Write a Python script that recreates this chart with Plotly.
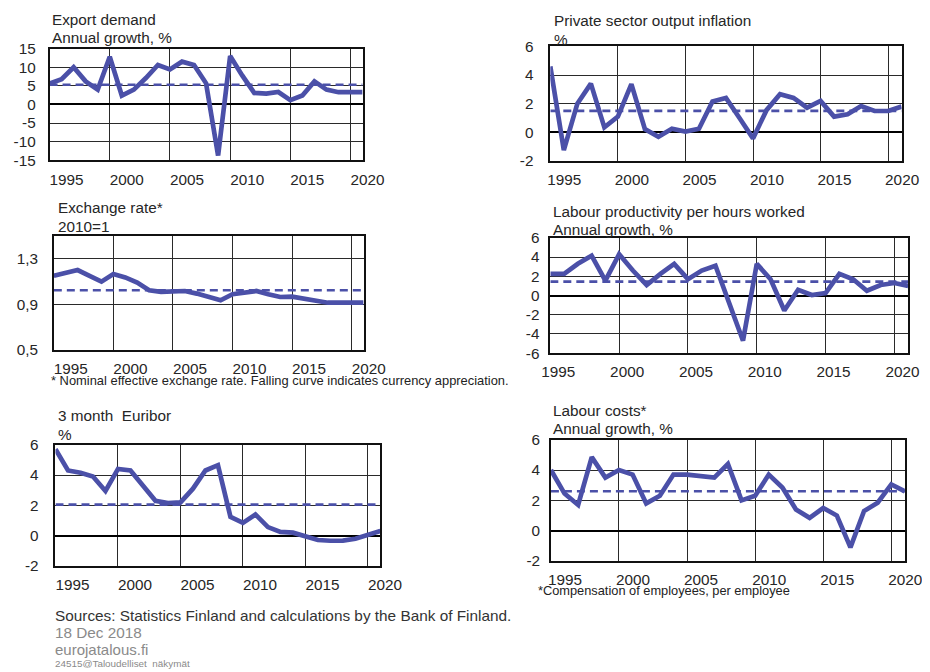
import plotly.graph_objects as go

# ---------------- data ----------------
years = list(range(1995, 2022))
year_ticks = [1995, 2000, 2005, 2010, 2015, 2020]
year_labels = ["1995", "2000", "2005", "2010", "2015", "2020"]

export_demand = [5.6, 6.8, 10.0, 6.2, 4.0, 12.8, 2.4, 4.0, 7.1, 10.6,
                 9.4, 11.5, 10.6, 5.7, -13.7, 13.0, 7.8, 3.1, 2.9, 3.35,
                 1.15, 2.4, 6.2, 4.0, 3.3, 3.4, 3.3]
export_avg = 5.3

private_inflation = [4.6, -1.24, 2.0, 3.4, 0.35, 1.1, 3.36, 0.23, -0.3, 0.25,
                     0.05, 0.25, 2.15, 2.4, 1.0, -0.42, 1.55, 2.66, 2.4, 1.72,
                     2.19, 1.1, 1.26, 1.84, 1.49, 1.49, 1.8]
private_avg = 1.5

exchange_rate = [1.152, 1.181, 1.202, 1.152, 1.10, 1.167, 1.137, 1.093, 1.024, 1.01,
                 1.018, 1.018, 0.995, 0.965, 0.936, 0.99, 1.004, 1.018, 0.99, 0.965,
                 0.968, 0.953, 0.94, 0.915, 0.915, 0.915, 0.915]
exchange_avg = 1.024

labour_productivity = [2.25, 2.25, 3.3, 4.15, 1.55, 4.3, 2.6, 1.1, 2.25, 3.3,
                       1.7, 2.6, 3.1, -0.8, -4.7, 3.3, 1.7, -1.55, 0.6, 0.05,
                       0.25, 2.25, 1.7, 0.5, 1.1, 1.3, 1.0]
productivity_avg = 1.45

euribor = [5.7, 4.3, 4.15, 3.9, 2.95, 4.4, 4.3, 3.3, 2.3, 2.15,
           2.2, 3.1, 4.3, 4.65, 1.25, 0.85, 1.4, 0.57, 0.25, 0.2,
           -0.05, -0.28, -0.33, -0.32, -0.2, 0.08, 0.32]
euribor_avg = 2.05

labour_costs = [4.0, 2.45, 1.7, 4.85, 3.5, 4.0, 3.7, 1.8, 2.3, 3.7,
                3.7, 3.6, 3.5, 4.4, 2.0, 2.3, 3.7, 2.85, 1.4, 0.85,
                1.5, 1.0, -1.1, 1.3, 1.85, 3.05, 2.6]
costs_avg = 2.6

ticks_pm15 = [-15, -10, -5, 0, 5, 10, 15]
ticks_m2_6 = [-2, 0, 2, 4, 6]
ticks_pm6 = [-6, -4, -2, 0, 2, 4, 6]
ticks_fx = [0.5, 0.9, 1.3]
ticks_fx_labels = ["0,5", "0,9", "1,3"]

# ---------------- styling ----------------
# the captured picture is the page shrunk by ~0.977 and shifted; target pixel
# positions (x, y in the 930x672 picture) are mapped back to layout pixels
SC, OX, OY = 0.977, 7.8, 16.3
W, H = 936, 671
LINE = "#4b50a8"
FONT = "Liberation Sans, Arial, sans-serif"
TXT = "#262626"
FS = 15.3


def lx(x):
    return (x - OX) / SC


def ly(y):
    return (y - OY) / SC


def dx(a, b):
    return [lx(a) / W, lx(b) / W]


def dy(top, bot):
    return [1 - ly(bot) / H, 1 - ly(top) / H]


panels = [
    dict(vals=export_demand, avg=export_avg, px=(40.7, 357), py=(48, 160),
         yrange=[-15, 15], yt=ticks_pm15, ytt=[str(v) for v in ticks_pm15], zero=True, ystand=9,
         shift=17, titles=[("Export demand", 41, 19), ("Annual growth, %", 41, 37)]),
    dict(vals=private_inflation, avg=private_avg, px=(546.7, 901.7), py=(45.7, 160.7),
         yrange=[-2, 6], yt=ticks_m2_6, ytt=[str(v) for v in ticks_m2_6], zero=True, ystand=12,
         shift=14, titles=[("Private sector output inflation", 548, 20), ("%", 548, 39)]),
    dict(vals=exchange_rate, avg=exchange_avg, px=(45, 358), py=(236, 350),
         yrange=[0.5, 1.5], yt=ticks_fx, ytt=ticks_fx_labels, zero=False, ystand=11,
         shift=17, titles=[("Exchange rate*", 47, 207), ("2010=1", 47, 226)]),
    dict(vals=labour_productivity, avg=productivity_avg, px=(546.7, 908.3), py=(237.7, 353.3),
         yrange=[-6, 6], yt=ticks_pm6, ytt=[str(v) for v in ticks_pm6], zero=True, ystand=6,
         shift=8, titles=[("Labour productivity per hours worked", 547, 211), ("Annual growth, %", 547, 229)]),
    dict(vals=euribor, avg=euribor_avg, px=(46.7, 375), py=(445, 566.7),
         yrange=[-2, 6], yt=ticks_m2_6, ytt=[str(v) for v in ticks_m2_6], zero=True, ystand=12,
         shift=17, titles=[("3 month  Euribor", 47, 416), ("%", 47, 435)]),
    dict(vals=labour_costs, avg=costs_avg, px=(547.3, 905), py=(440, 561.7),
         yrange=[-2, 6], yt=ticks_m2_6, ytt=[str(v) for v in ticks_m2_6], zero=True, ystand=6,
         shift=14, titles=[("Labour costs*", 547, 411), ("Annual growth, %", 547, 429)]),
]

fig = go.Figure()
annotations = []
layout = {}

for i, p in enumerate(panels):
    s = "" if i == 0 else str(i + 1)
    xa, ya = "x" + s, "y" + s
    fig.add_trace(go.Scatter(x=[years[0], years[-1]], y=[p["avg"], p["avg"]], mode="lines",
                             line=dict(color=LINE, width=2.6, dash="8px,5px"),
                             xaxis=xa, yaxis=ya, showlegend=False, hoverinfo="skip"))
    fig.add_trace(go.Scatter(x=years, y=p["vals"], mode="lines",
                             line=dict(color=LINE, width=4.7),
                             xaxis=xa, yaxis=ya, showlegend=False))
    layout["xaxis" + s] = dict(
        domain=dx(*p["px"]), anchor=ya, range=[1995, 2021],
        tickvals=year_ticks, ticktext=year_labels, ticks="",
        ticklabelshift=p["shift"], ticklabelstandoff=4, ticklabeloverflow="allow",
        showgrid=True, gridcolor="#2a2a2a", gridwidth=1, zeroline=False,
        showline=True, mirror=True, linecolor="#111", linewidth=1.6,
        tickfont=dict(family=FONT, size=FS, color=TXT), fixedrange=True)
    layout["yaxis" + s] = dict(
        domain=dy(*p["py"]), anchor=xa, range=p["yrange"],
        tickvals=p["yt"], ticktext=p["ytt"], ticks="", ticklabelstandoff=p["ystand"],
        showgrid=True, gridcolor="#2a2a2a", gridwidth=1,
        zeroline=p["zero"], zerolinecolor="#000", zerolinewidth=1.6,
        showline=True, mirror=True, linecolor="#111", linewidth=1.6,
        tickfont=dict(family=FONT, size=FS, color=TXT), fixedrange=True)
    for text, tx, ty in p["titles"]:
        annotations.append(dict(text=text, x=lx(tx) / W, y=1 - ly(ty) / H, xref="paper", yref="paper",
                                xanchor="left", yanchor="middle", showarrow=False,
                                font=dict(family=FONT, size=FS, color=TXT)))

notes = [
    ("* Nominal effective exchange rate. Falling curve indicates currency appreciation.", 40, 381, 12.9, "#222"),
    ("*Compensation of employees, per employee", 532, 591, 12.8, "#222"),
    ("Sources: Statistics Finland and calculations by the Bank of Finland.", 44, 616, 15.35, "#333"),
    ("18 Dec 2018", 44, 633, 15.3, "#8a8a8a"),
    ("eurojatalous.fi", 44, 650, 15.0, "#8a8a8a"),
    ("24515@Taloudelliset  näkymät", 44, 664, 9.9, "#8a8a8a"),
]
for text, tx, ty, sz, col in notes:
    annotations.append(dict(text=text, x=lx(tx) / W, y=1 - ly(ty) / H, xref="paper", yref="paper",
                            xanchor="left", yanchor="middle", showarrow=False,
                            font=dict(family=FONT, size=sz, color=col)))

fig.update_layout(width=W, height=H, margin=dict(l=0, r=0, t=0, b=0),
                  paper_bgcolor="white", plot_bgcolor="white",
                  annotations=annotations, showlegend=False, **layout)

fig.write_html("out.html")
